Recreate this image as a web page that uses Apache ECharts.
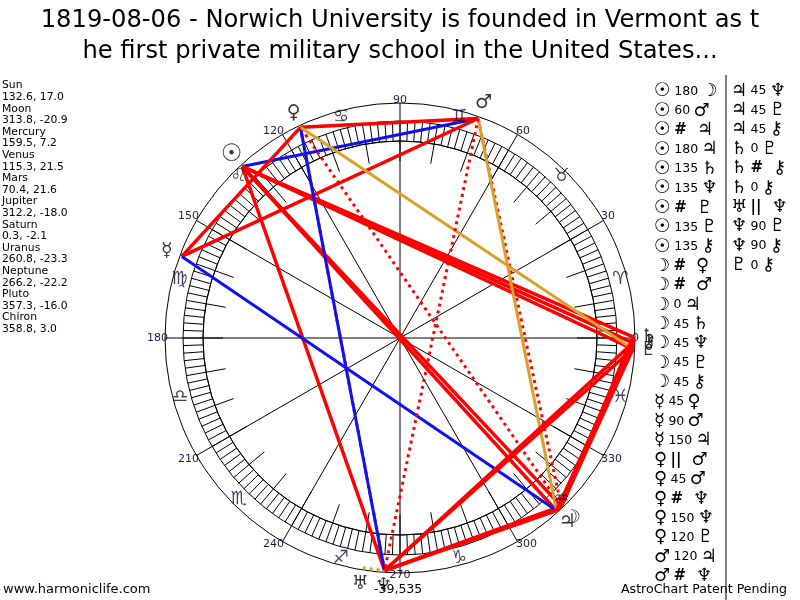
<!DOCTYPE html>
<html>
<head>
<meta charset="utf-8">
<script src="https://cdn.jsdelivr.net/npm/echarts@6/dist/echarts.min.js"></script>
<style>
html,body{margin:0;padding:0;background:#fff;}
#chart_1{width:800px;height:600px;}
</style>
</head>
<body>
<div id="chart_1"></div>
<script>
// planets: name, glyph, longitude, declination
var planetNames = ['Sun','Moon','Mercury','Venus','Mars','Jupiter','Saturn','Uranus','Neptune','Pluto','Chiron'];
var planetGlyphs = ['☉','☽','☿','♀','♂','♃','♄','♅','♆','♇','⚷'];
var planetLon = [132.6,313.8,159.5,115.3,70.4,312.2,0.3,260.8,266.2,357.3,358.8];
var planetDec = [17.0,-20.9,7.2,21.5,21.6,-18.0,-2.1,-23.3,-22.2,-16.0,3.0];

var signGlyphs = ['♈','♉','♊','♋','♌','♍','♎','♏','♐','♑','♒','♓'];

// aspects (planet index, kind, planet index); '#' = contra-parallel, '||' = parallel
var aspectFrom = [0,0,0,0,0,0,0,0,0,1,1,1,1,1,1,1,2,2,2,3,3,3,3,3,4,4, 5,5,5,6,6,6,7,8,8,9];
var aspectKind = ['180','60','#','180','135','135','#','135','135','#','#','0','45','45','45','45','45','90','150','||','45','#','150','120','120','#',
                  '45','45','45','0','#','0','||','90','90','0'];
var aspectTo   = [1,4,5,5,6,8,9,9,10,3,4,5,6,8,9,10,3,4,5,4,4,8,8,9,5,8, 8,9,10,9,10,10,8,9,10,10];

var footerLeft = 'www.harmoniclife.com';
var footerRight = 'AstroChart Patent Pending';
var placeText = '-39,535';

function drawWheel(){
	var dom = document.getElementById("chart_1");
	var myChart = echarts.init(dom);
	var option = null;
	var R = 233;       // aspect end points
	var cx = 400, cy = 338;

	function aspectStyle(k){
		if(k=='#') return {color:'#ff0000', width:3, type:[3,4]};
		if(k=='||') return {color:'#d9a02a', width:3, type:[3,4]};
		if(k=='60' || k=='150') return {color:'#1010f0', width:3, type:'solid'};
		if(k=='120') return {color:'#d9a02a', width:3, type:'solid'};
		return {color:'#ff0000', width:3.5, type:'solid'};
	}

	var series = [];
	// aspect lines, drawn on the polar wheel
	for(var i=0;i<aspectKind.length;i++){
		var a = aspectFrom[i], b = aspectTo[i];
		series.push({
			type:'line',
			coordinateSystem:'polar',
			polarIndex:0,
			symbol:'none',
			silent:true,
			animation:false,
			clip:false,
			lineStyle: aspectStyle(aspectKind[i]),
			data:[[R, planetLon[a]], [R, planetLon[b]]],
			z:3
		});
	}
	// zodiac signs
	series.push({
		type:'scatter',
		coordinateSystem:'polar',
		polarIndex:0,
		symbolSize:1,
		itemStyle:{color:'rgba(0,0,0,0)'},
		silent:true,
		animation:false,
		label:{show:true, position:'inside', formatter:'{b}', color:'#101035', fontSize:18, fontFamily:'DejaVu Sans'},
		data: signGlyphs.map(function(g,i){ return {name:g, value:[228, i*30+15]}; }),
		z:4
	});
	// planet glyphs, on an outer (hidden) polar so they sit outside the wheel
	series.push({
		type:'scatter',
		coordinateSystem:'polar',
		polarIndex:4,
		symbolSize:1,
		itemStyle:{color:'rgba(0,0,0,0)'},
		silent:true,
		animation:false,
		label:{show:true, position:'inside', formatter:'{b}', color:'#000', fontSize:19, fontFamily:'DejaVu Sans'},
		data: planetGlyphs.map(function(g,i){
			var d = {name:g, value:[249, planetLon[i]]};
			if(i==0) d.label = {fontSize:24, fontWeight:'bold'};
			return d;
		}),
		z:5
	});

	// aspect table text
	function kindText(k){
		if(k=='#') return '{s|#}  ';
		if(k=='||') return '{s|||}  ';
		return '{n|'+k+'}';
	}
	var col1 = [], col2 = [];
	for(var j=0;j<aspectKind.length;j++){
		var g1 = aspectFrom[j]==0 ? '{sun|'+planetGlyphs[0]+'}' : '{g|'+planetGlyphs[aspectFrom[j]]+'}';
		var line = g1+' '+kindText(aspectKind[j])+' {g|'+planetGlyphs[aspectTo[j]]+'}';
		if(j<26) col1.push(line); else col2.push(line);
	}
	var rich = {
		g:{fontSize:18, fontFamily:'DejaVu Sans', color:'#000', lineHeight:19.4},
		sun:{fontSize:19, fontFamily:'DejaVu Sans', fontWeight:'bold', color:'#000', lineHeight:19.4},
		n:{fontSize:12.5, fontFamily:'DejaVu Sans', color:'#000', lineHeight:19.4},
		s:{fontSize:15, fontFamily:'DejaVu Sans', fontWeight:'bold', color:'#000', lineHeight:19.4}
	};

	// left info list
	var info = [];
	for(var p=0;p<planetNames.length;p++){
		info.push('{t|'+planetNames[p]+'}');
		info.push('{t|'+planetLon[p].toFixed(1)+', '+planetDec[p].toFixed(1)+'}');
	}

	function hiddenRadius(idx, max){
		return {polarIndex:idx, type:'value', min:0, max:max, axisLine:{show:false}, axisTick:{show:false}, axisLabel:{show:false}, splitLine:{show:false}};
	}

	option = {
		backgroundColor:'#fff',
		animation:false,
		title:{
			text:'1819-08-06 - Norwich University is founded in Vermont as t\nhe first private military school in the United States...',
			left:'center',
			top:0,
			textStyle:{fontSize:24.2, fontWeight:'normal', color:'#000', fontFamily:'DejaVu Sans', lineHeight:31}
		},
		polar:[
			{center:[cx,cy], radius:[0,235]},
			{center:[cx,cy], radius:[197,217]},
			{center:[cx,cy], radius:[177,197]},
			{center:[cx,cy], radius:[0,197]},
			{center:[cx,cy], radius:[0,270]}
		],
		angleAxis:[
			{polarIndex:0, type:'value', min:0, max:360, interval:30, startAngle:0, clockwise:false,
				axisLine:{show:true, lineStyle:{color:'#000', width:1}},
				axisTick:{show:false},
				splitLine:{show:true, lineStyle:{color:'#000', width:1}},
				axisLabel:{show:true, margin:-3, align:'center', verticalAlign:'middle', color:'#1c1c50', fontSize:11, fontFamily:'DejaVu Sans',
					formatter:function(v){ return v==360 ? '' : String(v); }}
			},
			{polarIndex:1, type:'value', min:0, max:360, interval:2, startAngle:0, clockwise:false,
				axisLine:{show:true, lineStyle:{color:'#000', width:1}},
				axisTick:{show:false}, axisLabel:{show:false},
				splitLine:{show:true, lineStyle:{color:'#000', width:1}}
			},
			{polarIndex:2, type:'value', min:0, max:360, interval:10, startAngle:0, clockwise:false,
				axisLine:{show:false},
				axisTick:{show:false}, axisLabel:{show:false},
				splitLine:{show:true, lineStyle:{color:'#000', width:1}}
			},
			{polarIndex:3, type:'value', min:0, max:360, interval:30, startAngle:0, clockwise:false,
				axisLine:{show:true, lineStyle:{color:'#000', width:1}},
				axisTick:{show:false}, axisLabel:{show:false}, splitLine:{show:false}
			},
			{polarIndex:4, type:'value', min:0, max:360, interval:30, startAngle:0, clockwise:false,
				axisLine:{show:false}, axisTick:{show:false}, axisLabel:{show:false}, splitLine:{show:false}
			}
		],
		radiusAxis:[
			hiddenRadius(0, 235),
			hiddenRadius(1, 1),
			hiddenRadius(2, 1),
			hiddenRadius(3, 1),
			hiddenRadius(4, 270)
		],
		graphic:[
			{type:'text', left:2, top:80, style:{text:info.join('\n'),
				rich:{t:{fontSize:10.8, lineHeight:11.6, fontFamily:'DejaVu Sans', color:'#1a1a3a'}}}},
			{type:'text', left:654, top:82, style:{text:col1.join('\n'), rich:rich}},
			{type:'text', left:731, top:82, style:{text:col2.join('\n'), rich:rich}},
			{type:'line', shape:{x1:726, y1:75, x2:726, y2:600}, style:{stroke:'#000', lineWidth:1}},
			{type:'text', left:3, top:583, style:{text:footerLeft, fontSize:13, fontFamily:'DejaVu Sans', fill:'#000'}},
			{type:'text', right:13, top:583, style:{text:footerRight, fontSize:12.6, fontFamily:'DejaVu Sans', fill:'#000'}},
			{type:'text', left:374, top:583, style:{text:placeText, fontSize:12.5, fontFamily:'DejaVu Sans', fill:'#000'}}
		],
		series:series
	};
	if (option && typeof option === "object") {
		myChart.setOption(option, true);
	}
}

window.onload = drawWheel;
</script>
</body>
</html>
